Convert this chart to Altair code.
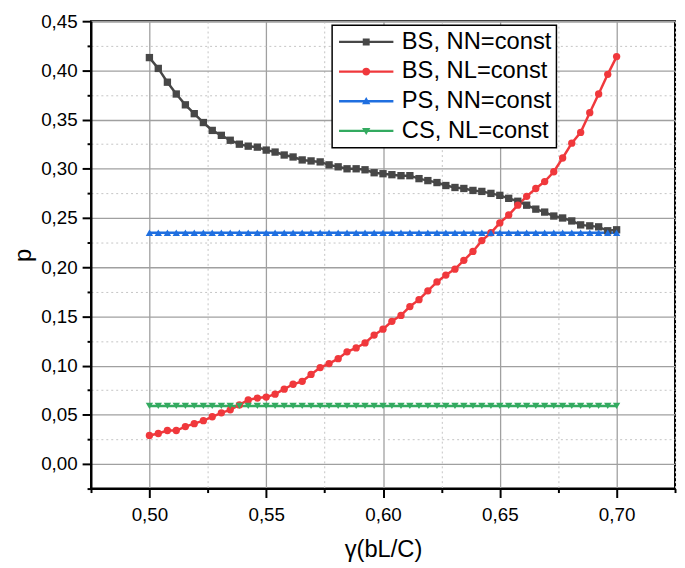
import math
import altair as alt
import pandas as pd

# ---------------- data ----------------
series = ["BS, NN=const", "BS, NL=const", "PS, NN=const", "CS, NL=const"]
colors = ["#474747", "#f0383c", "#1f6fe0", "#33aa60"]

gamma = [0.5000, 0.5038, 0.5077, 0.5115, 0.5154, 0.5192, 0.5231, 0.5269, 0.5308,
         0.5346, 0.5385, 0.5423, 0.5462, 0.5500, 0.5538, 0.5577, 0.5615, 0.5654,
         0.5692, 0.5731, 0.5769, 0.5808, 0.5846, 0.5885, 0.5923, 0.5962, 0.6000,
         0.6038, 0.6077, 0.6115, 0.6154, 0.6192, 0.6231, 0.6269, 0.6308, 0.6346,
         0.6385, 0.6423, 0.6462, 0.6500, 0.6538, 0.6577, 0.6615, 0.6654, 0.6692,
         0.6731, 0.6769, 0.6808, 0.6846, 0.6885, 0.6923, 0.6962, 0.7000]

bs_nn = [0.413, 0.402, 0.388, 0.376, 0.365, 0.356, 0.347, 0.339, 0.334, 0.329,
         0.325, 0.323, 0.322, 0.319, 0.317, 0.314, 0.312, 0.309, 0.308, 0.307,
         0.304, 0.302, 0.300, 0.300, 0.299, 0.296, 0.295, 0.294, 0.293, 0.293,
         0.290, 0.288, 0.286, 0.283, 0.281, 0.280, 0.278, 0.277, 0.275, 0.273,
         0.270, 0.267, 0.263, 0.259, 0.256, 0.252, 0.250, 0.247, 0.243, 0.242,
         0.241, 0.237, 0.238]

bs_nl = [0.029, 0.031, 0.034, 0.034, 0.038, 0.041, 0.044, 0.048, 0.052, 0.055,
         0.060, 0.065, 0.067, 0.068, 0.071, 0.076, 0.081, 0.084, 0.091, 0.098,
         0.102, 0.107, 0.114, 0.118, 0.123, 0.131, 0.137, 0.145, 0.151, 0.160,
         0.167, 0.176, 0.185, 0.192, 0.198, 0.207, 0.216, 0.227, 0.235, 0.245,
         0.253, 0.263, 0.272, 0.280, 0.287, 0.297, 0.311, 0.326, 0.337, 0.357,
         0.376, 0.396, 0.414]

ps_nn = [0.235] * 53
cs_nl = [0.059] * 53

x_ticks = [0.475, 0.500, 0.525, 0.550, 0.575, 0.600, 0.625, 0.650, 0.675, 0.700, 0.725]
y_ticks = [-0.025, 0.000, 0.025, 0.050, 0.075, 0.100, 0.125, 0.150, 0.175, 0.200,
           0.225, 0.250, 0.275, 0.300, 0.325, 0.350, 0.375, 0.400, 0.425, 0.450]

rows = []
for name, vals in zip(series, [bs_nn, bs_nl, ps_nn, cs_nl]):
    for g, v in zip(gamma, vals):
        rows.append({"series": name, "gamma": g, "p": v})
df = pd.DataFrame(rows)

# ---------------- legend symbol paths (line + marker) ----------------
line_path = "M-2.75,-0.12L2.75,-0.12L2.75,0.12L-2.75,0.12Z"
square_path = "M-0.35,-0.35L0.35,-0.35L0.35,0.35L-0.35,0.35Z"
circle_path = "M" + "L".join(
    f"{0.4*math.cos(2*math.pi*k/16):.3f},{0.4*math.sin(2*math.pi*k/16):.3f}" for k in range(16)
) + "Z"
tri_up_path = "M0,-0.42L0.42,0.3L-0.42,0.3Z"
tri_down_path = "M-0.42,-0.3L0.42,-0.3L0,0.42Z"
legend_shapes = [line_path + p for p in [square_path, circle_path, tri_up_path, tri_down_path]]

MINOR = "abs(datum.value*20 - round(datum.value*20)) > 0.1"
LABEL = f"({MINOR}) ? '' : replace(format(datum.value, '.2f'), '.', ',')"
FONT = "Liberation Sans"


def make_axis(values, title, title_pad, label_pad):
    return alt.Axis(
        values=values,
        title=title,
        grid=True,
        gridColor={"condition": {"test": MINOR, "value": "#c4c4c4"}, "value": "#a0a0a0"},
        gridDash={"condition": {"test": MINOR, "value": [2, 3]}, "value": []},
        gridWidth={"condition": {"test": MINOR, "value": 1}, "value": 1.3},
        tickSize={"condition": {"test": MINOR, "value": 4}, "value": 9},
        tickColor="black",
        tickWidth=2,
        domainColor="black",
        domainWidth=2,
        labelExpr=LABEL,
        labelFont=FONT,
        labelFontSize=19,
        labelColor="black",
        labelPadding=label_pad,
        labelFlush=False,
        labelOverlap=False,
        titleFont=FONT,
        titleFontSize=24,
        titleFontWeight="normal",
        titleColor="black",
        titlePadding=title_pad,
    )


x_enc = alt.X("gamma:Q", scale=alt.Scale(domain=[0.475, 0.725], nice=False, zero=False),
              axis=make_axis(x_ticks, "γ(bL/C)", 14, 8))
y_enc = alt.Y("p:Q", scale=alt.Scale(domain=[-0.025, 0.45], nice=False, zero=False),
              axis=make_axis(y_ticks, "p", 5, 5))
color_enc = alt.Color("series:N", scale=alt.Scale(domain=series, range=colors), legend=None)

base = alt.Chart(df)

lines = base.mark_line(strokeWidth=2.5).encode(x=x_enc, y=y_enc, color=color_enc, detail="series:N")

points = base.mark_point(filled=True, size=55, opacity=1).encode(
    x=x_enc, y=y_enc, color=color_enc,
    shape=alt.Shape("series:N", scale=alt.Scale(domain=series,
                    range=["square", "circle", "triangle-up", "triangle-down"]), legend=None),
)

leg = alt.Legend(orient="none", legendX=244, legendY=4, title=None,
                 labelFont=FONT, labelFontSize=24, labelColor="black",
                 labelLimit=0, symbolSize=400, symbolOffset=17.5,
                 labelOffset=24, rowPadding=6, padding=5,
                 strokeColor="black", fillColor="white",
                 symbolStrokeWidth=0, symbolOpacity=1)

legend_layer = base.transform_filter("false").mark_point(filled=True, opacity=1, strokeWidth=0).encode(
    x=alt.value(0), y=alt.value(0),
    color=alt.Color("series:N", scale=alt.Scale(domain=series, range=colors), legend=leg),
    shape=alt.Shape("series:N", scale=alt.Scale(domain=series, range=legend_shapes), legend=leg),
)

chart = alt.layer(lines, points, legend_layer).resolve_scale(
    shape="independent", color="independent"
).properties(
    width=591, height=473,
    autosize=alt.AutoSizeParams(type="none"),
    padding={"left": 84, "top": 10, "right": 2, "bottom": 76},
    background="white",
).configure_view(stroke="black", strokeWidth=2).configure_legend(strokeWidth=1.5)

chart.save("out.html", embed_options={"renderer": "svg", "actions": False})
